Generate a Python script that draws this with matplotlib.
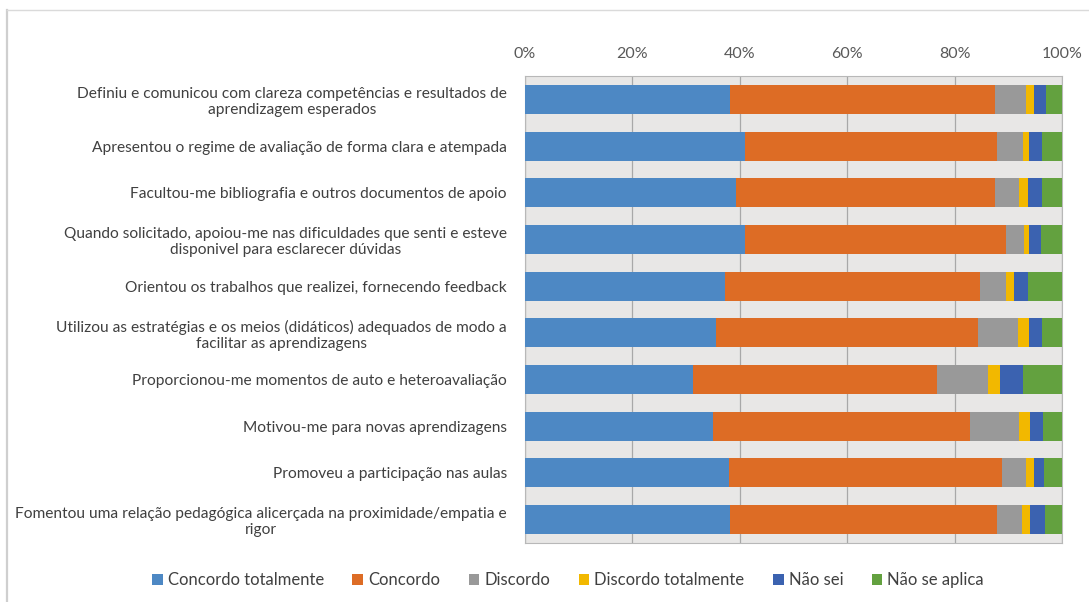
import numpy as np
import matplotlib.pyplot as plt
from matplotlib.lines import Line2D

plt.rcParams['font.family'] = ['Lato', 'DejaVu Sans']

categories = [
    "Definiu e comunicou com clareza competências e resultados de\naprendizagem esperados",
    "Apresentou o regime de avaliação de forma clara e atempada",
    "Facultou-me bibliografia e outros documentos de apoio",
    "Quando solicitado, apoiou-me nas dificuldades que senti e esteve\ndisponivel para esclarecer dúvidas",
    "Orientou os trabalhos que realizei, fornecendo feedback",
    "Utilizou as estratégias e os meios (didáticos) adequados de modo a\nfacilitar as aprendizagens",
    "Proporcionou-me momentos de auto e heteroavaliação",
    "Motivou-me para novas aprendizagens",
    "Promoveu a participação nas aulas",
    "Fomentou uma relação pedagógica alicerçada na proximidade/empatia e\nrigor",
]

# percentages per answer, one value per question (top to bottom)
concordo_totalmente = [38.2, 41.0, 39.3, 41.0, 37.3, 35.6, 31.3, 35.0, 38.0, 38.2]
concordo = [49.3, 46.9, 48.2, 48.6, 47.4, 48.8, 45.4, 47.9, 50.8, 49.7]
discordo = [5.8, 4.8, 4.5, 3.3, 4.9, 7.4, 9.5, 9.1, 4.5, 4.6]
discordo_totalmente = [1.5, 1.2, 1.7, 1.0, 1.4, 2.1, 2.3, 2.0, 1.5, 1.5]
nao_sei = [2.2, 2.4, 2.6, 2.2, 2.7, 2.4, 4.2, 2.5, 1.8, 2.8]
nao_se_aplica = [3.0, 3.7, 3.7, 3.9, 6.3, 3.7, 7.3, 3.5, 3.4, 3.2]

series_names = ["Concordo totalmente", "Concordo", "Discordo",
                "Discordo totalmente", "Não sei", "Não se aplica"]
series_values = [concordo_totalmente, concordo, discordo,
                 discordo_totalmente, nao_sei, nao_se_aplica]
colors = ['#4d88c4', '#dd6c25', '#999999', '#f2b800', '#3b62b0', '#63a13f']
x_ticks = [0, 20, 40, 60, 80, 100]

fig = plt.figure(figsize=(10.89, 6.02), dpi=100)
ax = fig.add_axes([525 / 1089, 1 - 543 / 602, 537 / 1089, 467 / 602])
ax.set_facecolor('#e8e7e6')

y = np.arange(len(categories))
left = np.zeros(len(categories))
for name, values, color in zip(series_names, series_values, colors):
    values = np.array(values)
    ax.barh(y, values, left=left, height=0.62, color=color, label=name, zorder=3)
    left += values

ax.set_ylim(len(categories) - 0.5, -0.5)
ax.set_xlim(0, 100)
ax.set_xticks(x_ticks)
ax.set_xticklabels(["{}%".format(t) for t in x_ticks])
ax.xaxis.tick_top()
ax.tick_params(axis='x', length=0, pad=11, labelsize=11.5, labelcolor='#595959')
ax.grid(axis='x', color='#a8a8a8', linewidth=0.9, zorder=1)

ax.set_yticks(y)
ax.set_yticklabels(categories)
ax.tick_params(axis='y', length=0, pad=13, labelsize=11.2, labelcolor='#404040')
for lbl in ax.get_yticklabels():
    lbl.set_multialignment('center')

for side in ['top', 'bottom', 'left', 'right']:
    ax.spines[side].set_color('#b8b8b8')
    ax.spines[side].set_linewidth(0.8)

ax.legend(loc='center', bbox_to_anchor=(568 / 1089, 1 - 580 / 602),
          bbox_transform=fig.transFigure, ncol=6, frameon=False,
          fontsize=12, handlelength=0.65, handleheight=0.65,
          handletextpad=0.3, columnspacing=1.7, labelcolor='#404040')

# thin frame around the chart area
fig.add_artist(Line2D([7 / 1089, 7 / 1089], [0, 1 - 10 / 602],
                      transform=fig.transFigure, color='#cfcfcf', linewidth=1.6))
fig.add_artist(Line2D([7 / 1089, 1], [1 - 10 / 602, 1 - 10 / 602],
                      transform=fig.transFigure, color='#dadada', linewidth=1.0))

plt.savefig('out.png', dpi=100)
